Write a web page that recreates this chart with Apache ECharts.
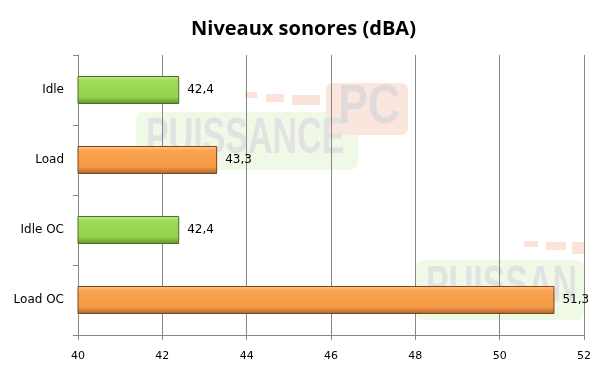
<!DOCTYPE html>
<html><head><meta charset="utf-8">
<script src="https://cdn.jsdelivr.net/npm/echarts@6/dist/echarts.min.js"></script>
<style>html,body{margin:0;padding:0;background:#fff}#c{width:607px;height:380px}</style>
</head><body><div id="c"></div>
<script>
const categories = ['Idle', 'Load', 'Idle OC', 'Load OC'];
const values = [42.4, 43.3, 42.4, 51.3];
const kinds = ['idle', 'load', 'idle', 'load'];
const xTicks = [40, 42, 44, 46, 48, 50, 52];

function grad(c1, c2, c3, c4) {
  return new echarts.graphic.LinearGradient(0, 0, 0, 1, [
    {offset: 0, color: c1}, {offset: 0.18, color: c2},
    {offset: 0.75, color: c3}, {offset: 1, color: c4}]);
}
const styles = {
  idle: {color: grad('#c4ee8c', '#9ddc55', '#94d44c', '#5f8f2c'), borderColor: '#4e6e24'},
  load: {color: grad('#ffc890', '#fba24e', '#f59a48', '#a8622a'), borderColor: '#7a4818'}
};

const chart = echarts.init(document.getElementById('c'));
function wm(text, x, y, size, sx, fill) {
  return {type: 'text', z: -1, x: x, y: y, scaleX: sx, originX: 0, originY: 0,
    style: {text: text, fontSize: size, fontFamily: 'Liberation Sans', fontWeight: 'bold',
      fill: fill, textVerticalAlign: 'top'}};
}
chart.setOption({
  animation: false,
  title: {text: 'Niveaux sonores (dBA)', left: 'center', top: 14,
    textStyle: {fontFamily: 'Open Sans', fontWeight: 'bold', fontSize: 20, color: '#000'}},
  graphic: [
    {type: 'rect', z: -1, shape: {x: 136, y: 112, width: 222, height: 58, r: 8}, style: {fill: '#f0f8e6'}},
    {type: 'rect', z: -1, shape: {x: 326, y: 83, width: 82, height: 52, r: 6}, style: {fill: '#fbe6de'}},
    {type: 'rect', z: -1, shape: {x: 245, y: 92, width: 12, height: 6}, style: {fill: '#fbe3da'}},
    {type: 'rect', z: -1, shape: {x: 266, y: 94, width: 18, height: 8}, style: {fill: '#fbe3da'}},
    {type: 'rect', z: -1, shape: {x: 292, y: 95, width: 28, height: 10}, style: {fill: '#fbe3da'}},
    wm('PUISSANCE', 146, 114, 50, 0.68, '#e2e2e2'),
    wm('PC', 338, 80, 56, 0.8, '#e0dada'),
    {type: 'rect', z: -1, shape: {x: 416, y: 260, width: 168, height: 60, r: 8}, style: {fill: '#f0f8e6'}},
    {type: 'rect', z: -1, shape: {x: 524, y: 241, width: 14, height: 6}, style: {fill: '#fbe3da'}},
    {type: 'rect', z: -1, shape: {x: 546, y: 242, width: 20, height: 8}, style: {fill: '#fbe3da'}},
    {type: 'rect', z: -1, shape: {x: 572, y: 242, width: 12, height: 12}, style: {fill: '#fbe3da'}},
    wm('PUISSAN', 426, 262, 50, 0.68, '#e2e2e2')
  ],
  grid: {left: 78, right: 23, top: 55, bottom: 45, containLabel: false},
  xAxis: {type: 'value', min: xTicks[0], max: xTicks[xTicks.length - 1], interval: 2,
    axisLine: {show: true, lineStyle: {color: '#868686'}},
    axisTick: {show: true, length: 5, lineStyle: {color: '#868686'}},
    splitLine: {show: true, lineStyle: {color: '#868686', width: 1}},
    axisLabel: {margin: 16, fontFamily: 'DejaVu Sans', fontSize: 11, color: '#000'}},
  yAxis: {type: 'category', data: categories, inverse: true,
    axisLine: {show: true, lineStyle: {color: '#868686'}},
    axisTick: {show: true, length: 5, lineStyle: {color: '#868686'}},
    axisLabel: {margin: 14, fontFamily: 'DejaVu Sans', fontSize: 12, color: '#000'}},
  series: [{
    type: 'bar', barWidth: '40%', z: 3,
    data: values.map((v, i) => ({value: v, itemStyle: Object.assign({borderWidth: 1}, styles[kinds[i]])})),
    label: {show: true, position: 'right', distance: 8, fontFamily: 'DejaVu Sans', fontSize: 12, color: '#000',
      formatter: p => p.value.toFixed(1).replace('.', ',')}
  }]
});
</script></body></html>
